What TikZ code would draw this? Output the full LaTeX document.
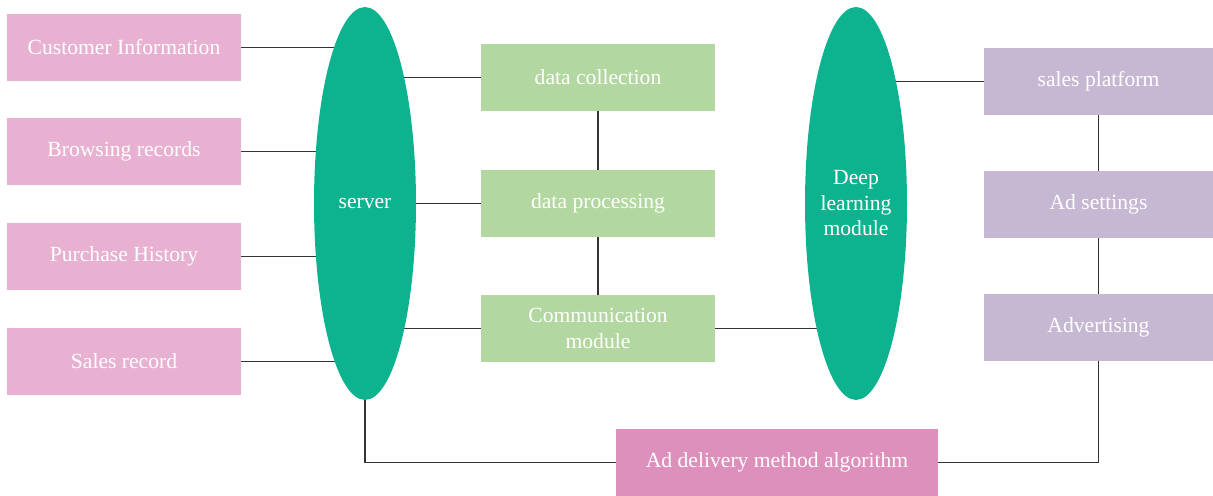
\documentclass[tikz,border=0pt]{standalone}
\usepackage{fontspec}
\setmainfont{Liberation Serif}
\usetikzlibrary{shapes.geometric,positioning,backgrounds}
\definecolor{inpink}{HTML}{E8B1D2}
\definecolor{modgreen}{HTML}{B3D7A1}
\definecolor{ovalteal}{HTML}{0DB38F}
\definecolor{platpurple}{HTML}{C6B8D3}
\definecolor{adpink}{HTML}{DD90BC}
\definecolor{linegray}{HTML}{333333}

\begin{document}
\begin{tikzpicture}[x=0.02cm, y=-0.02cm, node distance=1.18cm,
    box node/.style={rectangle, minimum width=4.68cm, minimum height=1.34cm, inner sep=0pt, text=white, align=center, font=\fontsize{12.3}{14.5}\selectfont},
    oval node/.style={ellipse, fill=ovalteal, minimum width=2.04cm, minimum height=7.86cm, inner sep=0pt, text=white, align=center, font=\fontsize{12.3}{14.5}\selectfont},
    link/.style={draw=linegray, line width=0.7pt}]
    \useasboundingbox (0,0) rectangle (1213,496);

    % inputs on the left
    \node[box node, fill=inpink] (info) at (124,47.5) {Customer Information};
    \node[box node, fill=inpink] (browse) at (124,151.5) {Browsing records};
    \node[box node, fill=inpink] (purchase) at (124,256.5) {Purchase History};
    \node[box node, fill=inpink] (salesrec) at (124,361.5) {Sales record};

    % the two ovals
    \node[oval node] (server) at (365,203.5) {server};
    \node[oval node] (deep) at (856,203.5) {Deep\\learning\\module};

    % modules in the middle
    \node[box node, fill=modgreen] (collect) at (598,77.5) {data collection};
    \node[box node, fill=modgreen] (process) at (598,203.5) {data processing};
    \node[box node, fill=modgreen] (comm) at (598,328.5) {Communication\\module};

    % platform side
    \node[box node, fill=platpurple, minimum width=4.58cm] (platform) at (1098.5,81.5) {sales platform};
    \node[box node, fill=platpurple, minimum width=4.58cm] (adset) at (1098.5,204.5) {Ad settings};
    \node[box node, fill=platpurple, minimum width=4.58cm] (advert) at (1098.5,327.5) {Advertising};

    \node[box node, fill=adpink, minimum width=6.44cm] (delivery) at (777,462.5) {Ad delivery method algorithm};

    \begin{scope}[on background layer]
        \path[link]
            (info.east) -- (info.east -| server.center)
            (browse.east) -- (browse.east -| server.center)
            (purchase.east) -- (purchase.east -| server.center)
            (salesrec.east) -- (salesrec.east -| server.center)
            (collect.west) -- (collect.west -| server.center)
            (process.west) -- (process.west -| server.center)
            (comm.west) -- (comm.west -| server.center)
            (comm.east) -- (comm.east -| deep.center)
            (platform.west) -- (platform.west -| deep.center)
            (collect) -- (process) -- (comm)
            (platform) -- (adset) -- (advert);
    \end{scope}
    \path[link]
        (server.south) -- (server.south |- delivery.west) -- (delivery.west)
        (delivery.east) -- (delivery.east -| advert.south) -- (advert.south);
\end{tikzpicture}
\end{document}
